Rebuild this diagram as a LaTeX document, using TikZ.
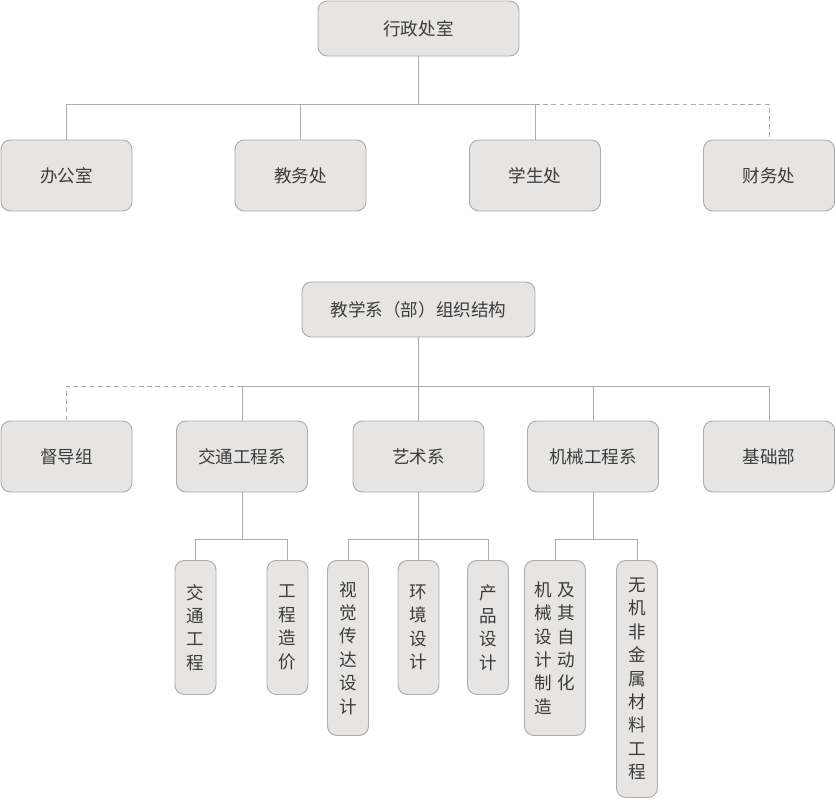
\documentclass[tikz,border=0pt]{standalone}
\usepackage{fontspec}
\setmainfont{Noto Sans CJK SC}
\usetikzlibrary{positioning}
\definecolor{boxgray}{RGB}{230,229,227}
\definecolor{edgegray}{RGB}{172,172,172}
\definecolor{textgray}{RGB}{60,60,60}

\begin{document}
\begin{tikzpicture}[x=0.03cm, y=-0.03cm,
  box/.style={draw=edgegray, fill=boxgray, line width=0.8pt, rounded corners=8pt, text=textgray,
    font=\fontsize{15}{20}\selectfont, inner sep=0pt, minimum width=3.93cm, minimum height=2.13cm},
  headbox/.style={box, minimum height=1.65cm},
  vbox/.style={box, anchor=north, align=center, minimum width=1.23cm},
  link/.style={draw=edgegray, line width=0.8pt},
  dashlink/.style={link, dash pattern=on 4pt off 3pt}]
  \useasboundingbox (0,0) rectangle (836,799);

  % Administration
  \node[headbox, minimum width=6.03cm] (xzcs) at (418.5, 28.5) {行政处室};
  \node[box] (bgs) at (66.5, 175.5) {办公室};
  \node[box] (jwc) at (300.5, 175.5) {教务处};
  \node[box] (xsc) at (535, 175.5) {学生处};
  \node[box] (cwc) at (769, 175.5) {财务处};

  \coordinate (busA) at (418.5, 104);
  \draw[link] (xzcs.south) -- (busA);
  \draw[link] (busA) -| (bgs.north);
  \draw[link] (busA) -| (jwc.north);
  \draw[link] (busA) -| (xsc.north);
  \draw[dashlink] (xsc.north |- busA) -| (cwc.north);

  % Teaching departments
  \node[headbox, minimum width=6.99cm] (jxzz) at (418.5, 309.5) {教学系（部）组织结构};
  \node[box] (ddz) at (66.5, 456.5) {督导组};
  \node[box] (jtx) at (242, 456.5) {交通工程系};
  \node[box] (ysx) at (418.5, 456.5) {艺术系};
  \node[box] (jxx) at (593, 456.5) {机械工程系};
  \node[box] (jcb) at (769, 456.5) {基础部};

  \coordinate (busB) at (418.5, 386);
  \draw[link] (jxzz.south) -- (ysx.north);
  \draw[link] (busB) -| (jtx.north);
  \draw[link] (busB) -| (jxx.north);
  \draw[link] (busB) -| (jcb.north);
  \draw[dashlink] (jtx.north |- busB) -| (ddz.north);

  % Majors
  \node[vbox, minimum height=4.02cm] (jtgc) at (195.5, 560) {交\\通\\工\\程};
  \node[vbox, minimum height=4.02cm] (gczj) at (287.5, 560) {工\\程\\造\\价};
  \node[vbox, minimum height=5.25cm] (sjcd) at (348, 560) {视\\觉\\传\\达\\设\\计};
  \node[vbox, minimum height=4.02cm] (hjsj) at (418.5, 560) {环\\境\\设\\计};
  \node[vbox, minimum height=4.02cm] (cpsj) at (488, 560) {产\\品\\设\\计};
  \node[vbox, align=left, minimum width=1.83cm, minimum height=5.25cm] (jxsj) at (555, 560)
    {机\hspace{4.6pt}及\\械\hspace{4.6pt}其\\设\hspace{4.6pt}自\\计\hspace{4.6pt}动\\制\hspace{4.6pt}化\\造};
  \node[vbox, minimum height=7.11cm] (wjfj) at (637, 560) {无\\机\\非\\金\\属\\材\\料\\工\\程};

  \coordinate (busC1) at (242, 539);
  \draw[link] (jtx.south) -- (busC1);
  \draw[link] (busC1) -| (jtgc.north);
  \draw[link] (busC1) -| (gczj.north);

  \coordinate (busC2) at (418.5, 539);
  \draw[link] (ysx.south) -- (hjsj.north);
  \draw[link] (busC2) -| (sjcd.north);
  \draw[link] (busC2) -| (cpsj.north);

  \coordinate (busC3) at (593, 539);
  \draw[link] (jxx.south) -- (busC3);
  \draw[link] (busC3) -| (jxsj.north);
  \draw[link] (busC3) -| (wjfj.north);
\end{tikzpicture}
\end{document}
